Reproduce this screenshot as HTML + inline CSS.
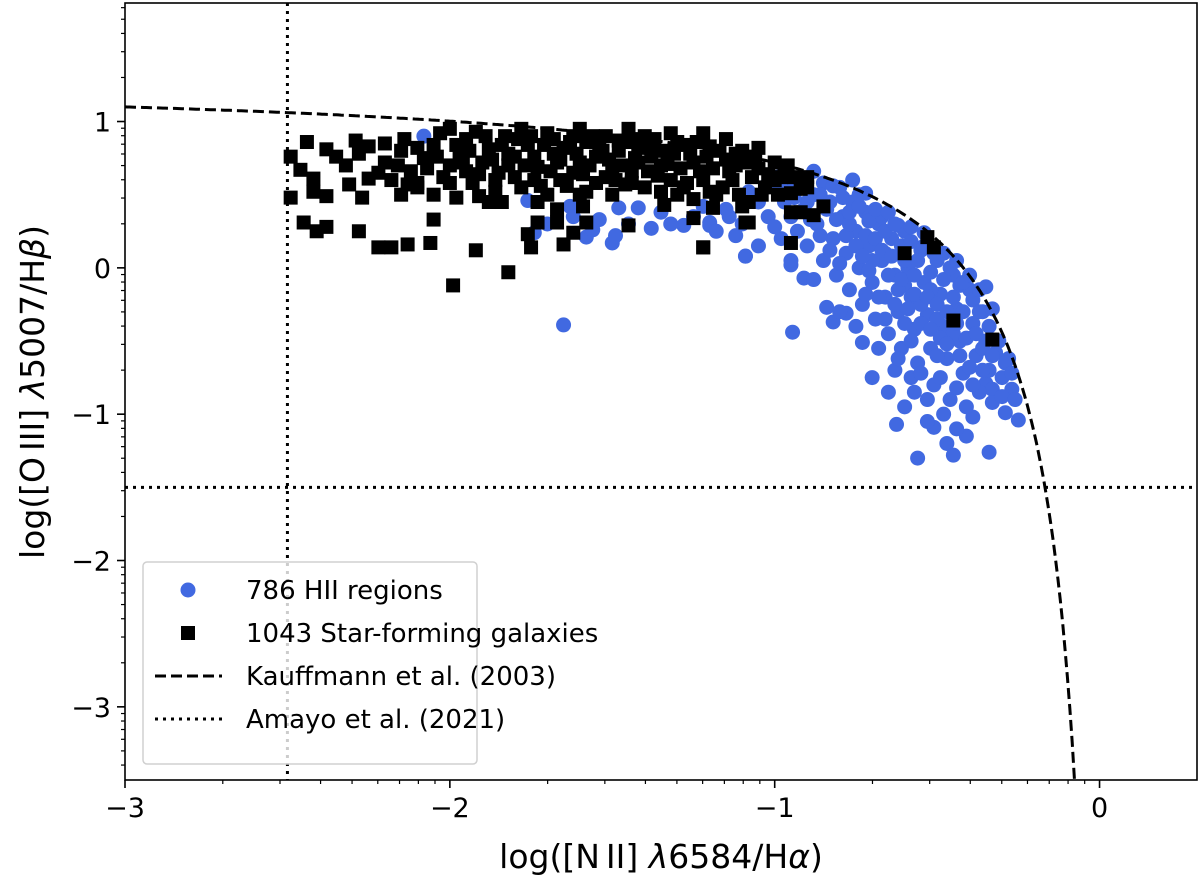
<!DOCTYPE html>
<html><head><meta charset="utf-8"><style>
body{margin:0;background:#fff;width:1200px;height:884px;overflow:hidden}
svg text{font-family:"DejaVu Sans","Liberation Sans",sans-serif;fill:#000}
</style></head><body>
<svg id="chart" width="1200" height="884" xmlns="http://www.w3.org/2000/svg">
<defs><clipPath id="clip"><rect x="125" y="3" width="1072" height="777"/></clipPath></defs>
<g id="plot" clip-path="url(#clip)"></g>
<g id="axes"></g>
</svg>
<script>
const xTicks=[-3,-2,-1,0];
const yTicks=[1,0,-1,-2,-3];
const xTickLabels=["\u22123","\u22122","\u22121","0"];
const yTickLabels=["1","0","\u22121","\u22122","\u22123"];
const bluePts=[[-2.08,0.9],[-1.76,0.46],[-1.74,0.24],[-1.63,0.42],[-1.58,0.21],[-1.5,0.17],[-1.49,0.22],[-1.54,0.33],[-1.48,0.41],[-1.38,0.27],[-1.42,0.41],[-1.28,0.29],[-1.2,0.29],[-1.09,0.08],[-1.14,0.35],[-1.65,-0.39],
[-0.945,-0.44],[-0.625,-1.07],[-0.56,-1.3],[-0.34,-1.26],[-0.25,-1.04],[-0.27,-0.83],[-0.7,-0.75],[-0.65,-0.85],[-0.47,-1.2],[-0.45,-1.28],[-0.51,-1.09],[-0.39,-1.02],[-0.41,-1.15],[-0.29,-0.99],[-0.35,-0.79],[-0.33,-0.83],[-0.58,-0.75],[-0.73,-0.51],[-0.84,-0.27],[-0.78,-0.31],[-0.82,-0.37],[-0.91,-0.07],[-0.88,-0.08],[-0.95,0.02],[-1.09,0.08],[-1.2,0.31],[-0.35,-0.13],[-0.43,-0.12],[-0.72,0.51],[-0.88,0.66],[-0.62,0.29],
[-1.0,0.55],[-0.97,0.45],[-0.95,0.35],[-0.93,0.25],[-0.92,0.62],[-0.9,0.15],[-0.88,0.5],[-0.87,0.3],[-0.85,0.05],[-0.84,0.4],[-0.82,0.2],[-0.81,-0.05],[-0.8,0.55],[-0.79,0.35],[-0.78,0.1],[-0.77,-0.15],[-0.76,0.45],[-0.75,0.25],[-0.74,0.0],[-0.73,-0.25],[-0.72,0.38],[-0.71,0.15],[-0.7,-0.1],[-0.69,-0.35],[-0.68,0.3],[-0.67,0.05],[-0.66,-0.2],[-0.65,-0.45],[-0.64,0.2],[-0.63,-0.05],[-0.62,-0.3],[-0.61,-0.55],[-0.6,0.25],[-0.59,0.0],[-0.58,-0.2],[-0.57,-0.42],[-0.56,-0.65],[-0.55,0.12],[-0.54,-0.1],[-0.53,-0.32],[-0.52,-0.55],[-0.51,-0.8],[-0.5,0.05],[-0.49,-0.18],[-0.48,-0.4],[-0.47,-0.62],[-0.46,-0.9],[-0.45,-0.05],[-0.44,-0.28],[-0.43,-0.5],[-0.42,-0.72],[-0.41,-0.95],[-0.4,-0.15],[-0.39,-0.38],[-0.38,-0.6],[-0.37,-0.85],[-0.36,-0.3],[-0.35,-0.5],[-0.34,-0.7],[-0.33,-0.92],[-0.32,-0.58],[-0.3,-0.75],[-0.28,-0.62],[-0.72,0.22],[-0.66,0.1],[-0.6,-0.12],[-0.55,-0.25],[-0.5,-0.35],[-0.62,-0.15],[-0.7,0.05],[-0.78,0.22],[-0.58,-0.5],[-0.5,-0.6],[-0.45,-0.45],[-0.52,-0.15],[-0.6,-0.38],[-0.68,-0.55],[-0.75,-0.4],[-0.8,-0.3],[-0.63,-0.7],[-0.57,-0.85],[-0.48,-1.0],[-0.53,-1.05],[-0.6,-0.95],[-0.44,-1.1],[-0.9,0.45],[-0.85,0.58],[-0.98,0.2],[-1.02,0.35],[-1.05,0.15],[-1.12,0.22],[-1.15,0.4],[-0.95,0.05],[-0.67,0.35],[-0.76,0.6],
[-0.99,0.62],[-0.96,0.55],[-0.94,0.48],[-0.91,0.4],[-0.89,0.33],[-0.86,0.5],[-0.86,0.22],[-0.83,0.45],[-0.83,0.12],[-0.81,0.33],[-0.8,0.03],[-0.79,0.48],[-0.77,0.3],[-0.77,0.38],[-0.75,0.15],[-0.74,0.42],[-0.73,0.08],[-0.71,0.32],[-0.71,-0.02],[-0.69,0.2],[-0.69,0.4],[-0.68,-0.2],[-0.67,0.12],[-0.66,0.25],[-0.65,-0.05],[-0.64,0.08],[-0.63,0.3],[-0.63,-0.25],[-0.61,0.15],[-0.61,-0.08],[-0.6,0.05],[-0.59,-0.28],[-0.58,0.18],[-0.57,-0.05],[-0.57,-0.18],[-0.56,0.05],[-0.55,-0.38],[-0.54,0.15],[-0.53,-0.2],[-0.52,-0.03],[-0.52,-0.42],[-0.51,0.1],[-0.5,-0.25],[-0.49,-0.48],[-0.48,-0.08],[-0.47,-0.3],[-0.47,-0.52],[-0.46,0.0],[-0.45,-0.2],[-0.44,-0.38],[-0.43,-0.6],[-0.42,-0.1],[-0.42,-0.3],[-0.41,-0.48],[-0.4,-0.68],[-0.39,-0.22],[-0.38,-0.45],[-0.37,-0.3],[-0.36,-0.55],[-0.36,-0.7],[-0.34,-0.4],[-0.33,-0.6],[-0.31,-0.5],[-0.3,-0.88],[-0.29,-0.65],[-0.27,-0.72],[-0.26,-0.9],[-0.55,-0.72],[-0.49,-0.75],[-0.44,-0.82],[-0.39,-0.8],[-0.53,-0.9],[-0.62,-0.62],[-0.66,-0.35],[-0.72,-0.18],[-1.05,0.45],[-1.1,0.3],[-1.18,0.25],[-1.25,0.35],[-1.32,0.3],[-1.02,0.58],[-1.08,0.52],[-1.0,0.28],[-0.93,0.6],[-0.82,0.56],[-0.74,0.5],[-0.65,0.38],[-0.58,0.28],[-0.54,0.24],[-0.48,0.1],[-0.44,0.05],[-0.4,-0.05],[-0.37,-0.15],[-0.33,-0.28],[-1.45,0.3],[-1.56,0.26],[-1.35,0.38],[-1.22,0.42],[-1.62,0.35],[-1.7,0.3]];
const blackPts=[[-2.44,0.86],[-2.49,0.76],[-2.46,0.67],[-2.42,0.61],[-2.49,0.48],[-2.42,0.52],[-2.38,0.49],[-2.45,0.31],[-2.41,0.25],[-2.38,0.28],[-2.38,0.81],[-2.35,0.76],[-2.31,0.57],[-2.27,0.48],[-2.28,0.25],[-2.29,0.87],[-2.25,0.83],[-2.25,0.61],[-2.22,0.14],[-2.18,0.14],[-2.13,0.16],[-2.06,0.17],[-2.05,0.33],[-1.99,-0.12],[-1.92,0.12],[-1.82,-0.03],[-1.98,0.48],[-1.91,0.49],[-1.84,0.45],[-2.13,0.57],[-2.1,0.55],[-1.76,0.23],[-1.75,0.14],[-1.73,0.45],[-1.73,0.31],[-1.67,0.4],[-1.67,0.31],[-1.65,0.16],[-1.59,0.42],[-1.58,0.31],[-1.62,0.24],[-1.45,0.29],[-1.34,0.43],[-1.22,0.14],[-1.25,0.34],[-1.19,0.41],[-1.08,0.31],
[-0.95,0.51],[-0.95,0.17],[-0.92,0.38],[-0.88,0.36],[-0.85,0.42],[-0.9,0.62],[-0.9,0.55],[-0.95,0.38],[-1.09,0.31],[-0.6,0.1],[-0.53,0.21],[-0.51,0.14],[-0.45,-0.36],[-0.33,-0.49],[-1.22,0.14],
[-2.2,0.72],[-2.15,0.8],[-2.12,0.66],[-2.08,0.75],[-2.05,0.84],[-2.02,0.62],[-2.0,0.7],[-1.97,0.78],[-1.95,0.88],[-1.93,0.58],[-1.9,0.72],[-1.88,0.81],[-1.85,0.65],[-1.83,0.9],[-1.8,0.76],[-1.78,0.55],[-1.76,0.84],[-1.73,0.69],[-1.7,0.92],[-1.68,0.78],[-1.66,0.6],[-1.63,0.86],[-1.6,0.72],[-1.58,0.52],[-1.56,0.9],[-1.53,0.8],[-1.5,0.66],[-1.48,0.87],[-1.46,0.57],[-1.43,0.75],[-1.4,0.9],[-1.38,0.82],[-1.36,0.63],[-1.33,0.71],[-1.3,0.86],[-1.28,0.55],[-1.26,0.78],[-1.23,0.66],[-1.2,0.83],[-1.18,0.5],[-1.15,0.74],[-1.13,0.6],[-1.1,0.8],[-1.08,0.45],[-1.05,0.68],[-1.03,0.55],[-1.0,0.72],[-0.98,0.62],[-2.18,0.6],[-1.92,0.93],[-1.74,0.6],[-1.62,0.65],[-1.52,0.62],[-1.44,0.66],[-1.35,0.52],[-1.25,0.47],[-1.12,0.7],[-1.42,0.82],[-1.55,0.76],[-1.67,0.72],[-1.82,0.7],[-1.95,0.66],[-2.1,0.58],[-1.86,0.52],[-1.7,0.5],[-1.32,0.92],[-1.22,0.92],[-1.6,0.95],[-1.78,0.95],[-2.0,0.95],[-1.45,0.95],[-1.15,0.88],[-1.05,0.82],[-0.96,0.7],
[-2.32,0.7],[-2.28,0.78],[-2.22,0.65],[-2.2,0.85],[-2.16,0.7],[-2.14,0.88],[-2.1,0.82],[-2.07,0.68],[-2.04,0.76],[-2.03,0.92],[-2.0,0.58],[-1.98,0.84],[-1.96,0.72],[-1.94,0.8],[-1.91,0.64],[-1.89,0.9],[-1.87,0.74],[-1.86,0.6],[-1.84,0.84],[-1.82,0.78],[-1.8,0.62],[-1.79,0.88],[-1.77,0.7],[-1.75,0.9],[-1.74,0.76],[-1.72,0.56],[-1.71,0.84],[-1.69,0.66],[-1.68,0.88],[-1.66,0.74],[-1.65,0.82],[-1.64,0.56],[-1.62,0.9],[-1.61,0.78],[-1.59,0.64],[-1.58,0.86],[-1.57,0.7],[-1.55,0.58],[-1.54,0.84],[-1.52,0.9],[-1.51,0.74],[-1.49,0.6],[-1.48,0.8],[-1.47,0.7],[-1.45,0.86],[-1.44,0.58],[-1.42,0.72],[-1.41,0.88],[-1.39,0.66],[-1.38,0.76],[-1.37,0.88],[-1.35,0.7],[-1.34,0.8],[-1.32,0.6],[-1.31,0.78],[-1.29,0.68],[-1.28,0.84],[-1.27,0.58],[-1.25,0.72],[-1.24,0.86],[-1.22,0.6],[-1.21,0.76],[-1.19,0.68],[-1.17,0.8],[-1.16,0.55],[-1.14,0.66],[-1.12,0.78],[-1.11,0.5],[-1.09,0.72],[-1.07,0.62],[-1.06,0.76],[-1.04,0.5],[-1.02,0.64],[-1.0,0.6],[-0.99,0.5],[-0.97,0.66],[-0.94,0.62],[-0.92,0.54],[-1.4,0.55],[-1.3,0.5],[-1.5,0.5],[-1.6,0.5],[-1.2,0.52],[-1.1,0.42],[-2.05,0.5],[-2.15,0.5],[-1.88,0.45]];
const ampX=-2.5, ampY=-1.5;
const X0=125,X1=1197,Y0=3,Y1=780,xmin=-3,xmax=0.3,ymin=-3.5,ymax=1.81;
const sx=v=>X0+(v-xmin)/(xmax-xmin)*(X1-X0);
const sy=v=>Y1-(v-ymin)/(ymax-ymin)*(Y1-Y0);
const NS="http://www.w3.org/2000/svg";
function mk(tag,parent,attrs){const e=document.createElementNS(NS,tag);for(const k in attrs)e.setAttribute(k,attrs[k]);parent.appendChild(e);return e;}
const plot=document.getElementById('plot'),axes=document.getElementById('axes');
bluePts.forEach(p=>{const c=mk('circle',plot,{cx:sx(p[0]),cy:sy(p[1]),r:7.5,fill:'#4169e1'});

});
blackPts.forEach(p=>{const r=mk('rect',plot,{x:sx(p[0])-7,y:sy(p[1])-7,width:14,height:14,fill:'#000'});

});
let d='';for(let i=0;i<=400;i++){const x=-3+i*(2.923/400);const y=0.61/(x-0.05)+1.3;d+=(i?'L':'M')+sx(x).toFixed(1)+' '+sy(y).toFixed(1);}
const kl=mk('path',plot,{d:d,fill:'none',stroke:'#000','stroke-width':3,'stroke-dasharray':'11,5'});


const av=mk('line',plot,{x1:sx(ampX),x2:sx(ampX),y1:Y0,y2:Y1,stroke:'#000','stroke-width':3,'stroke-dasharray':'3,5'});


const ah=mk('line',plot,{x1:X0,x2:X1,y1:sy(ampY),y2:sy(ampY),stroke:'#000','stroke-width':3,'stroke-dasharray':'3,5'});


const frame=mk('rect',axes,{x:X0,y:Y0,width:X1-X0,height:Y1-Y0,fill:'none',stroke:'#000','stroke-width':1.6});


for(let n=-3;n<=0;n++){for(let k=2;k<=9;k++){const v=n+Math.log10(k);if(v>xmax)continue;mk('line',axes,{x1:sx(v),x2:sx(v),y1:Y1,y2:Y1+4,stroke:'#000','stroke-width':1.2});}}
for(let n=-4;n<=1;n++){for(let k=2;k<=9;k++){const v=n+Math.log10(k);if(v<ymin||v>ymax)continue;mk('line',axes,{x1:X0-4,x2:X0,y1:sy(v),y2:sy(v),stroke:'#000','stroke-width':1.2});}}
xTicks.forEach((v,i)=>{mk('line',axes,{x1:sx(v),x2:sx(v),y1:Y1,y2:Y1+8,stroke:'#000','stroke-width':1.6});
const t=mk('text',axes,{x:sx(v),y:Y1+37,'text-anchor':'middle','font-size':27});t.textContent=xTickLabels[i];

});
yTicks.forEach((v,i)=>{mk('line',axes,{x1:X0-8,x2:X0,y1:sy(v),y2:sy(v),stroke:'#000','stroke-width':1.6});
const t=mk('text',axes,{x:X0-14,y:sy(v)+10,'text-anchor':'end','font-size':27});t.textContent=yTickLabels[i];

});
</script>
<svg style="position:absolute;left:0;top:0" width="1200" height="884" xmlns="http://www.w3.org/2000/svg">
<text x="661" y="868" text-anchor="middle" font-size="33">log([N<tspan dx="6">II]</tspan> <tspan font-style="italic">λ</tspan>6584/H<tspan font-style="italic">α</tspan>)</text>
<text transform="translate(44,392) rotate(-90)" text-anchor="middle" font-size="33">log([O<tspan dx="6">III]</tspan> <tspan font-style="italic">λ</tspan>5007/H<tspan font-style="italic">β</tspan>)</text>
<g>
<rect x="143" y="562" width="334" height="202" rx="4" fill="#fff" fill-opacity="0.8" stroke="#d0d0d0" stroke-width="1.5"/>
<g><circle cx="188" cy="590" r="7.5" fill="#4169e1"/><text x="246" y="599" font-size="26">786 HII regions</text></g>
<g><rect x="181" y="626" width="14" height="14" fill="#000"/><text x="246" y="642" font-size="26">1043 Star-forming galaxies</text></g>
<g><line x1="155" x2="222" y1="676" y2="676" stroke="#000" stroke-width="3" stroke-dasharray="11,5"/><text x="246" y="685" font-size="26">Kauffmann et al. (2003)</text></g>
<g><line x1="155" x2="222" y1="719" y2="719" stroke="#000" stroke-width="3" stroke-dasharray="3,5"/><text x="246" y="728" font-size="26">Amayo et al. (2021)</text></g>
</g>
</svg>
</body></html>
